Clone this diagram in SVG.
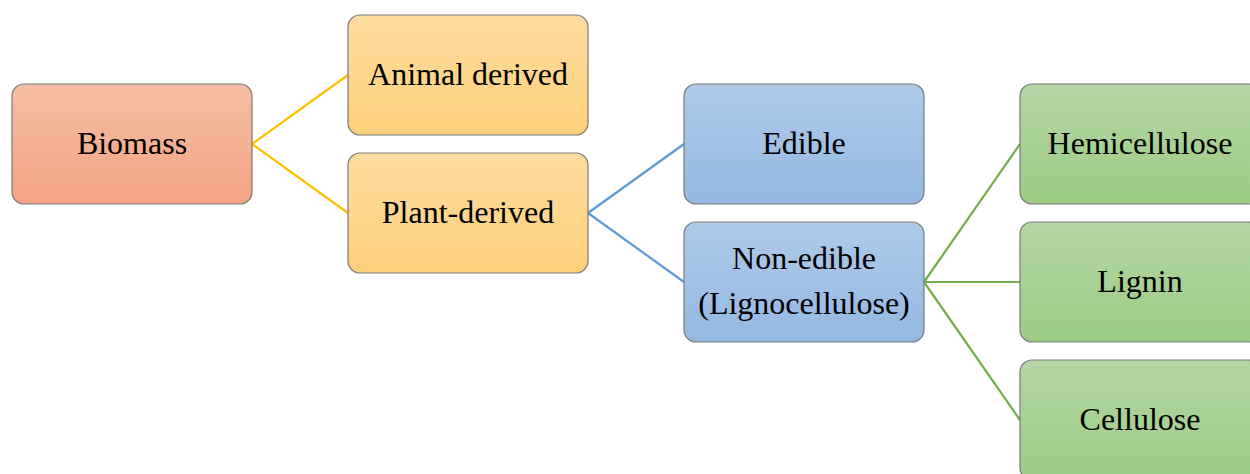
<svg xmlns="http://www.w3.org/2000/svg" width="1250" height="474" viewBox="0 0 1250 474">
<defs>
<linearGradient id="gRed" x1="0" y1="0" x2="0" y2="1"><stop offset="0" stop-color="#f5bea3"/><stop offset="1" stop-color="#f4a283"/></linearGradient>
<linearGradient id="gOrange" x1="0" y1="0" x2="0" y2="1"><stop offset="0" stop-color="#fedb9f"/><stop offset="1" stop-color="#fdd07b"/></linearGradient>
<linearGradient id="gBlue" x1="0" y1="0" x2="0" y2="1"><stop offset="0" stop-color="#afcae8"/><stop offset="1" stop-color="#94b8e2"/></linearGradient>
<linearGradient id="gGreen" x1="0" y1="0" x2="0" y2="1"><stop offset="0" stop-color="#b4d6a5"/><stop offset="1" stop-color="#9ccb83"/></linearGradient>
</defs>
<style>
.box{stroke:#7a7a7a;stroke-width:1.2}
.t{font-family:"Liberation Serif","Times New Roman",Times,serif;font-size:32px;fill:#000;text-anchor:middle}
.c{fill:none;stroke-width:2.2}
</style>
<g id="connectors">
<path class="c" stroke="#ffc000" d="M252,144 L348,75 M252,144 L348,213"/>
<path class="c" stroke="#5b9bd5" d="M588,213 L684,144 M588,213 L684,282"/>
<path class="c" stroke="#70ad47" d="M924,282 L1020,144 M924,282 L1020,282 M924,282 L1020,420"/>
</g>
<g id="biomass"><rect class="box" x="12" y="84" width="240" height="120" rx="12" fill="url(#gRed)"/><text class="t" x="132" y="154">Biomass</text></g>
<g id="animal"><rect class="box" x="348" y="15" width="240" height="120" rx="12" fill="url(#gOrange)"/><text class="t" x="468" y="85">Animal derived</text></g>
<g id="plant"><rect class="box" x="348" y="153" width="240" height="120" rx="12" fill="url(#gOrange)"/><text class="t" x="468" y="223">Plant-derived</text></g>
<g id="edible"><rect class="box" x="684" y="84" width="240" height="120" rx="12" fill="url(#gBlue)"/><text class="t" x="804" y="154">Edible</text></g>
<g id="nonedible"><rect class="box" x="684" y="222" width="240" height="120" rx="12" fill="url(#gBlue)"/><text class="t" x="804" y="269">Non-edible</text><text class="t" x="804" y="314">(Lignocellulose)</text></g>
<g id="hemicellulose"><rect class="box" x="1020" y="84" width="240" height="120" rx="12" fill="url(#gGreen)"/><text class="t" x="1140" y="154">Hemicellulose</text></g>
<g id="lignin"><rect class="box" x="1020" y="222" width="240" height="120" rx="12" fill="url(#gGreen)"/><text class="t" x="1140" y="292">Lignin</text></g>
<g id="cellulose"><rect class="box" x="1020" y="360" width="240" height="120" rx="12" fill="url(#gGreen)"/><text class="t" x="1140" y="430">Cellulose</text></g>
</svg>
